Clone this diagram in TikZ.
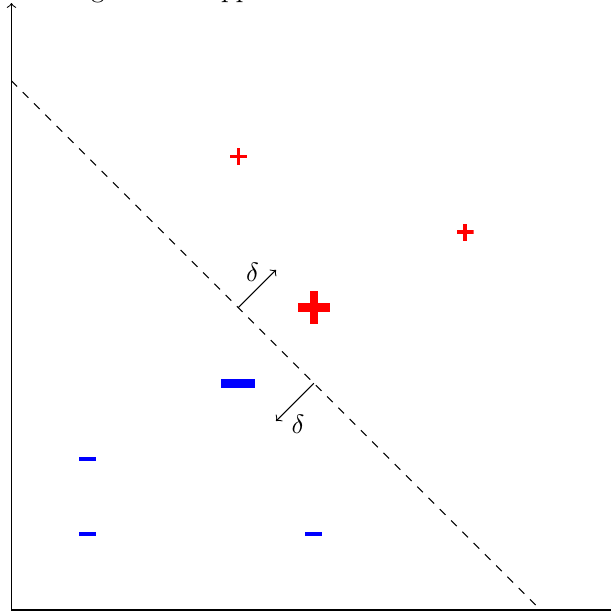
\documentclass[tikz,border=0pt]{standalone}
\usetikzlibrary{calc}
\begin{document}
\begin{tikzpicture}
\tikzset{
  mk/.style={inner sep=0pt, outer sep=0pt, draw=none},
  minusmark/.style 2 args={mk, rectangle, fill=blue, minimum width=#1, minimum height=#2},
  plusmark/.style 2 args={mk, rectangle, minimum size=#1,
    path picture={
      \fill[red] ([yshift=-#2/2]path picture bounding box.west) rectangle ([yshift=#2/2]path picture bounding box.east);
      \fill[red] ([xshift=-#2/2]path picture bounding box.south) rectangle ([xshift=#2/2]path picture bounding box.north);
    }},
  axisline/.style={->, line width=0.4pt},
  sepline/.style={dashed, line width=0.4pt},
  marginarrow/.style={->, line width=0.4pt},
  lbl/.style={inner sep=0pt}
}
\useasboundingbox (-0.152,-0.066) rectangle (7.93,8.07);
% title (only its descenders fall inside the picture)
\node[anchor=base west, inner sep=0pt] (title) at (0.41,8.10) {Margin with support};
% axes
\coordinate (O) at (0,0);
\coordinate (xend) at (8.3,0);
\coordinate (yend) at (0,8.03);
\draw[axisline] (O) -- (xend);
\draw[axisline] (O) -- (yend);
% separating line
\coordinate (s1) at (0,7);
\coordinate (s2) at (7,0);
\draw[sepline] (s1) -- (s2);
% margin arrows
\coordinate (a1) at (3,4);
\coordinate (a2) at (3.5,4.5);
\coordinate (b1) at (4,3);
\coordinate (b2) at (3.5,2.5);
\draw[marginarrow] (a1) -- (a2);
\draw[marginarrow] (b1) -- (b2);
\node[lbl] (d1) at (3.19,4.47) {$\delta$};
\node[lbl] (d2) at (3.79,2.46) {$\delta$};
% positive points
\node[plusmark={0.225cm}{0.046cm}] (p1) at (3,6) {};
\node[plusmark={0.225cm}{0.046cm}] (p2) at (6,5) {};
\node[plusmark={0.43cm}{0.113cm}] (p3) at (4,4) {};
% negative points
\node[minusmark={0.45cm}{0.12cm}] (n1) at (3,3) {};
\node[minusmark={0.225cm}{0.053cm}] (n2) at (1,2) {};
\node[minusmark={0.225cm}{0.053cm}] (n3) at (1,1) {};
\node[minusmark={0.225cm}{0.053cm}] (n4) at (4,1) {};
\end{tikzpicture}
\end{document}
